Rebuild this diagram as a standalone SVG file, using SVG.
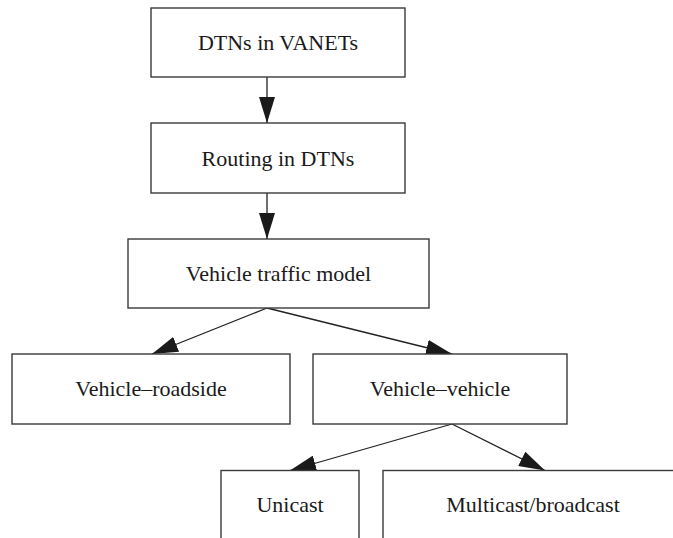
<svg xmlns="http://www.w3.org/2000/svg" width="673" height="538" viewBox="0 0 673 538">
  <style>
    .box { fill: #ffffff; stroke: #3a3a3a; stroke-width: 1.4; }
    .lbl { font-family: "Liberation Serif", "Times New Roman", serif; font-size: 22px; fill: #1a1a1a; text-anchor: middle; }
    .edge { stroke: #222222; stroke-width: 1.3; fill: none; marker-end: url(#arrow); }
  </style>
  <defs>
    <marker id="arrow" viewBox="0 0 26 16" refX="26" refY="8" markerWidth="26" markerHeight="16" markerUnits="userSpaceOnUse" orient="auto">
      <path d="M0,0 L26,8 L0,16 Z" fill="#1a1a1a"/>
    </marker>
  </defs>
  <rect width="673" height="538" fill="#ffffff"/>
  <g id="connectors">
    <line class="edge" x1="267" y1="77" x2="267" y2="123"/>
    <line class="edge" x1="267" y1="193" x2="267" y2="239"/>
    <line class="edge" x1="267" y1="308" x2="152" y2="354"/>
    <line class="edge" x1="267" y1="308" x2="452" y2="354"/>
    <line class="edge" x1="452" y1="424" x2="290" y2="470.5"/>
    <line class="edge" x1="452" y1="424" x2="545" y2="470.5"/>
  </g>
  <g id="dtns-in-vanets">
    <rect class="box" x="151" y="8" width="254" height="69"/>
    <text class="lbl" x="278" y="50">DTNs in VANETs</text>
  </g>
  <g id="routing-in-dtns">
    <rect class="box" x="151" y="123" width="254" height="70"/>
    <text class="lbl" x="278" y="166">Routing in DTNs</text>
  </g>
  <g id="vehicle-traffic-model">
    <rect class="box" x="128" y="239" width="301" height="69"/>
    <text class="lbl" x="278.5" y="281">Vehicle traffic model</text>
  </g>
  <g id="vehicle-roadside">
    <rect class="box" x="12" y="354" width="278" height="70"/>
    <text class="lbl" x="151" y="396">Vehicle–roadside</text>
  </g>
  <g id="vehicle-vehicle">
    <rect class="box" x="313" y="354" width="254" height="70"/>
    <text class="lbl" x="440" y="396">Vehicle–vehicle</text>
  </g>
  <g id="unicast">
    <rect class="box" x="221" y="470.5" width="138" height="90"/>
    <text class="lbl" x="290" y="512">Unicast</text>
  </g>
  <g id="multicast-broadcast">
    <rect class="box" x="383" y="470.5" width="300" height="90"/>
    <text class="lbl" x="533" y="512">Multicast/broadcast</text>
  </g>
</svg>
